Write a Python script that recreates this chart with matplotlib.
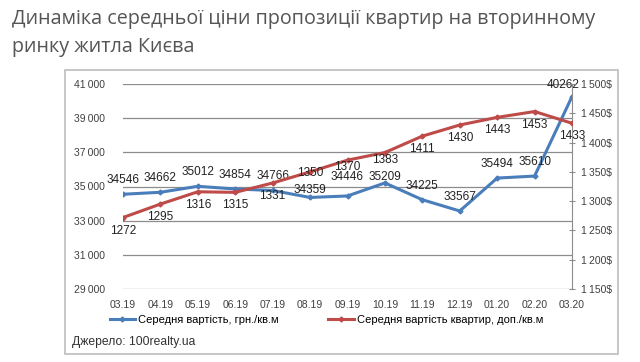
import matplotlib.pyplot as plt
from matplotlib.patches import Rectangle
from matplotlib.lines import Line2D

months = ['03.19', '04.19', '05.19', '06.19', '07.19', '08.19', '09.19',
          '10.19', '11.19', '12.19', '01.20', '02.20', '03.20']
price_uah = [34546, 34662, 35012, 34854, 34766, 34359, 34446,
             35209, 34225, 33567, 35494, 35610, 40262]
price_usd = [1272, 1295, 1316, 1315, 1331, 1350, 1370,
             1383, 1411, 1430, 1443, 1453, 1433]
left_ticks = [29000, 31000, 33000, 35000, 37000, 39000, 41000]
right_ticks = [1150, 1200, 1250, 1300, 1350, 1400, 1450, 1500]

blue = '#4a7ebb'
red = '#be4b48'
txt = '#404040'
plt.rcParams['font.family'] = ['Liberation Sans', 'DejaVu Sans']

fig = plt.figure(figsize=(6.4, 3.62), dpi=100)
fig.patch.set_facecolor('white')

# title
for yy, line in [(19, 'Динаміка середньої ціни пропозиції квартир на вторинному'),
                 (47, 'ринку житла Києва')]:
    fig.text(12/640, 1 - yy/362, line, fontsize=14.2, color='#555555',
             va='center', ha='left', family='Open Sans')

# chart frame
fig.patches.append(Rectangle((65/640, 1 - 354/362), (618 - 65)/640, (354 - 70)/362,
                             transform=fig.transFigure, fill=False,
                             edgecolor='#bdbdbd', lw=1.2))

ax = fig.add_axes([123/640, 1 - 289/362, (572 - 123)/640, (289 - 84)/362])
ax2 = ax.twinx()
x = list(range(len(months)))

ax.set_ylim(29000, 41000)
ax.set_yticks(left_ticks)
ax.set_yticklabels([f'{v:,}'.replace(',', '\u2009') for v in left_ticks], fontsize=7.5, color=txt)
ax.set_xlim(0, len(months) - 1)
ax.set_xticks(x)
ax.set_xticklabels(months, fontsize=7.5, color=txt)
ax.tick_params(axis='y', length=0, pad=13)
ax.tick_params(axis='x', length=0, pad=8)
ax.grid(axis='y', color='#8c8c8c', lw=0.9)
ax.set_axisbelow(True)
for s in ax.spines.values():
    s.set_visible(False)

ax2.set_ylim(1150, 1500)
ax2.set_yticks(right_ticks)
ax2.set_yticklabels([f'{v:,}$'.replace(',', '\u2009') for v in right_ticks], fontsize=7.5, color=txt)
ax2.tick_params(axis='y', direction='inout', length=5, color='#8c8c8c', pad=4)
for k, s in ax2.spines.items():
    s.set_visible(k == 'right')
ax2.spines['right'].set_color('#8c8c8c')

ax.plot(x, price_uah, color=blue, lw=2.2, marker='D', ms=2.5, zorder=3)
ax2.plot(x, price_usd, color=red, lw=2.2, marker='D', ms=2.5, zorder=3)

# label offsets in pixels (dx, dy), defaults: blue above, red below
blue_adj = {5: (0, 7), 6: (0, 19), 7: (0, 6), 12: (-9, 12)}
red_adj = {5: (0, -1), 6: (0, -7), 7: (0, -7)}
px = 72 / 100
for i, (xi, v) in enumerate(zip(x, price_uah)):
    dx, dy = blue_adj.get(i, (0, 14))
    ax.annotate(str(v), (xi, v), xytext=(dx * px, dy * px), textcoords='offset points',
                ha='center', va='center', fontsize=8.5, color='#222222')
for i, (xi, v) in enumerate(zip(x, price_usd)):
    dx, dy = red_adj.get(i, (0, -13))
    ax2.annotate(str(v), (xi, v), xytext=(dx * px, dy * px), textcoords='offset points',
                 ha='center', va='center', fontsize=8.5, color='#222222')

handles = [Line2D([], [], color=blue, lw=2.2, marker='D', ms=2.5),
           Line2D([], [], color=red, lw=2.2, marker='D', ms=2.5)]
fig.legend(handles, ['Середня вартість, грн./кв.м', 'Середня вартість квартир, доп./кв.м'],
           loc='center', bbox_to_anchor=(0.51, 1 - 320/362), ncol=2, frameon=False,
           fontsize=8, handlelength=2.3, handletextpad=0.3, columnspacing=4.4)

fig.text(72/640, 1 - 342/362, 'Джерело: 100realty.ua', fontsize=8.7, color='#333333',
         va='center', ha='left')

fig.savefig('out.png', dpi=100)
